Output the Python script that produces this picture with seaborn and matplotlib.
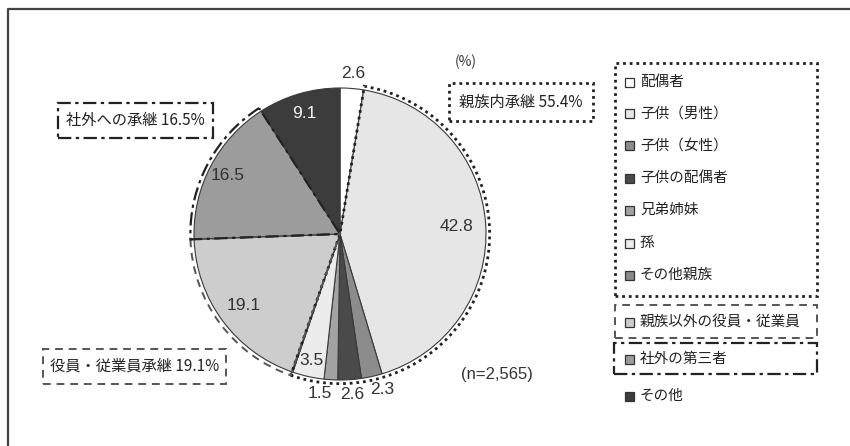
import matplotlib
matplotlib.use("Agg")
import matplotlib.pyplot as plt
from matplotlib.patches import Wedge, Rectangle
from matplotlib.lines import Line2D
import numpy as np
import seaborn as sns

sns.set_theme(style="white")
plt.rcParams["font.family"] = ["Noto Sans CJK JP", "DejaVu Sans"]

# Successor breakdown (%), clockwise from 12 o'clock
categories = ["配偶者", "子供（男性）", "子供（女性）", "子供の配偶者", "兄弟姉妹", "孫",
              "その他親族", "親族以外の役員・従業員", "社外の第三者", "その他"]
shares = [2.6, 42.8, 2.3, 2.6, 1.5, 3.5, 0.1, 19.1, 16.5, 9.1]
colors = ["#ffffff", "#e6e6e6", "#8c8c8c", "#4a4a4a", "#a3a3a3", "#ececec",
          "#8a8a8a", "#cdcdcd", "#9c9c9c", "#3c3c3c"]
label_colors = ["#333333"] * 9 + ["#f2f2f2"]
# radial distance and small angular nudge (degrees) for each value label
label_radius = [1.1, 0.8, 1.1, 1.1, 1.1, 0.89, 0.0, 0.82, 0.87, 0.86]
label_nudge = [0, 0, 2.5, 0.5, -3.5, 0, 0, 0, 0, 0]

# Grouped successions shown with framed captions
group_names = ["親族内承継", "役員・従業員承継", "社外への承継"]
group_totals = [55.4, 19.1, 16.5]
group_members = [[1, 2, 3, 4, 5, 6], [7], [8]]
n_label = "(n=2,565)"

W, H = 850, 446
fig = plt.figure(figsize=(W / 100, H / 100), dpi=100)
fig.patch.set_facecolor("white")

NUM_FONT = ["Liberation Sans", "DejaVu Sans"]


def fx(x):
    return x / W


def fy(y):
    return 1 - y / H


# Pie axes: centre (340, 234) px, radius 146 px
cx, cy, r = 340, 234, 146
ax = fig.add_axes([fx(cx - r), fy(cy + r), 2 * r / W, 2 * r / H])
wedges, _ = ax.pie(shares, colors=colors, startangle=90, counterclock=False,
                   wedgeprops=dict(edgecolor="#3a3a3a", linewidth=0.8))
ax.set_xlim(-1, 1)
ax.set_ylim(-1, 1)
ax.set_aspect("equal")
ax.axis("off")

# Value labels
for w, v, rr, dn, c in zip(wedges, shares, label_radius, label_nudge, label_colors):
    if v < 1:
        continue
    ang = np.deg2rad((w.theta1 + w.theta2) / 2 + dn)
    ax.text(rr * np.cos(ang), rr * np.sin(ang), f"{v:.1f}", ha="center",
            va="center", fontsize=12.5, color=c, family=NUM_FONT,
            clip_on=False)

# Group outlines around the pie
group_styles = [
    dict(ls=(0, (1, 1.4)), lw=2.0, color="#222222"),
    dict(ls=(0, (4, 3)), lw=1.4, color="#555555"),
    dict(ls=(0, (6, 2, 1.5, 2)), lw=1.6, color="#222222"),
]
for members, st in zip(group_members, group_styles):
    t1 = min(wedges[i].theta1 for i in members)
    t2 = max(wedges[i].theta2 for i in members)
    ax.add_patch(Wedge((0, 0), 1.025, t1, t2, fill=False, clip_on=False,
                       linestyle=st["ls"], linewidth=st["lw"],
                       edgecolor=st["color"]))

# Outer frame (open on the right and bottom)
fig.add_artist(Line2D([fx(8), fx(8), fx(850)], [fy(446), fy(9), fy(9)],
                      transform=fig.transFigure, color="#444444", lw=1.6))


def fig_box(x0, y0, x1, y1, st):
    fig.add_artist(Rectangle((fx(x0), fy(y1)), fx(x1) - fx(x0), fy(y0) - fy(y1),
                             transform=fig.transFigure, fill=False,
                             linestyle=st["ls"], linewidth=st["lw"],
                             edgecolor=st["color"]))


# Group captions
caption_boxes = [(449, 83, 593, 121), (43, 349, 226, 384), (58, 103, 213, 138)]
for name, tot, box, st in zip(group_names, group_totals, caption_boxes, group_styles):
    fig_box(*box, st)
    fig.text(fx((box[0] + box[2]) / 2), fy((box[1] + box[3]) / 2),
             f"{name} {tot:.1f}%", ha="center", va="center", fontsize=11,
             color="#222222")

fig.text(fx(466), fy(62), "(%)", ha="center", va="center", fontsize=10,
         color="#333333")
fig.text(fx(497), fy(375), n_label, ha="center", va="center", fontsize=12,
         color="#333333", family=NUM_FONT)

# Legend
legend_y = [82, 114, 146, 178, 210, 243, 275, 322, 359, 396]
for name, col, y in zip(categories, colors, legend_y):
    fig.add_artist(Rectangle((fx(625), fy(y + 4.5)), 9 / W, 9 / H,
                             transform=fig.transFigure, facecolor=col,
                             edgecolor="#333333", linewidth=0.9))
    fig.text(fx(640), fy(y), name, ha="left", va="center", fontsize=10.5,
             color="#222222")

fig_box(615, 63, 817, 296, group_styles[0])
fig_box(615, 305, 817, 338, group_styles[1])
fig_box(614, 343, 817, 374, group_styles[2])

fig.savefig("out.png", dpi=100, facecolor="white")
